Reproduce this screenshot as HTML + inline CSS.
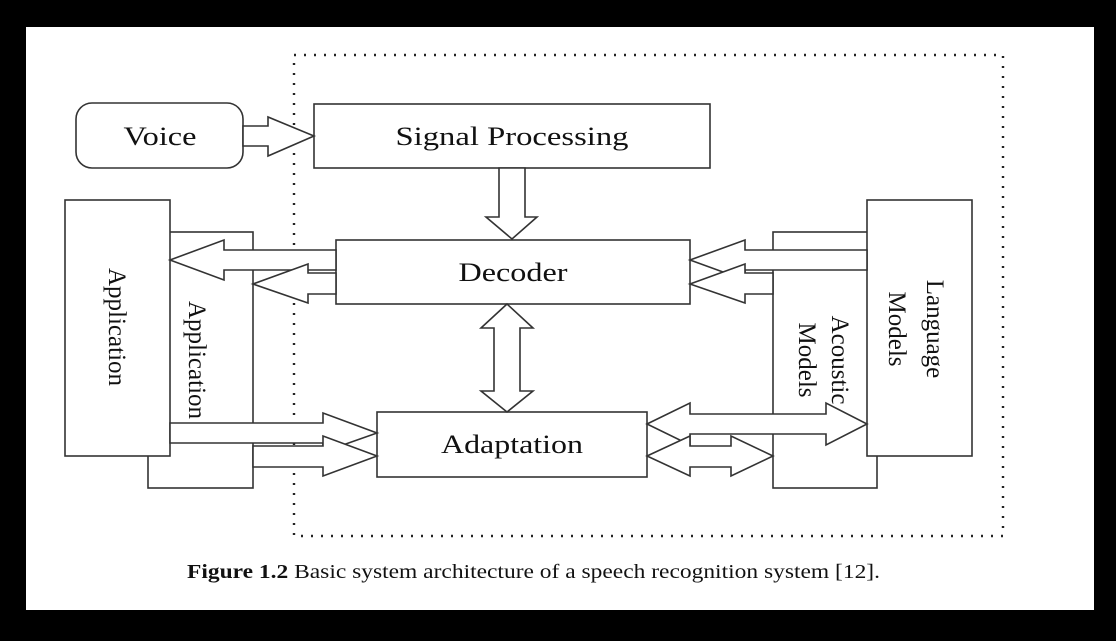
<!DOCTYPE html>
<html><head><meta charset="utf-8"><style>
html,body{margin:0;padding:0;background:#000;}
svg{display:block;}
text{font-family:"Liberation Serif",serif;fill:#111;}
</style></head><body>
<svg width="1116" height="641" viewBox="0 0 1116 641" xmlns="http://www.w3.org/2000/svg">
<rect x="0" y="0" width="1116" height="641" fill="#000"/>
<rect x="26" y="27" width="1068" height="583" fill="#fff"/>
<g fill="#fff" stroke="#333" stroke-width="1.6">
<rect x="294" y="55" width="709" height="481" fill="none" stroke="#222" stroke-width="2.4" stroke-dasharray="2 8"/>
<rect x="148" y="232" width="105" height="256"/>
<rect x="65" y="200" width="105" height="256"/>
<rect x="773" y="232" width="104" height="256"/>
<rect x="867" y="200" width="105" height="256"/>
<rect x="76" y="103" width="167" height="65" rx="16"/>
<rect x="314" y="104" width="396" height="64"/>
<rect x="336" y="240" width="354" height="64"/>
<rect x="377" y="412" width="270" height="65"/>
<polygon points="243,126 268,126 268,117 314,136 268,156 268,146 243,146"/>
<polygon points="499,168 525,168 525,217 537,217 512,239 486,217 499,217"/>
<polygon points="336,250 224,250 224,240 170,260 224,280 224,270 336,270"/>
<polygon points="336,273 308,273 308,264 253,284 308,303 308,294 336,294"/>
<polygon points="507,304 533,328 520,328 520,391 533,391 507,412 481,391 494,391 494,328 481,328"/>
<polygon points="170,423 323,423 323,413 377,433 323,452 323,443 170,443"/>
<polygon points="253,446 323,446 323,436 377,456 323,476 323,467 253,467"/>
<polygon points="867,250 745,250 745,240 690,260 745,280 745,270 867,270"/>
<polygon points="773,273 745,273 745,264 690,284 745,303 745,294 773,294"/>
<polygon points="647,424 690,403 690,414 826,414 826,403 867,424 826,445 826,434 690,434 690,445"/>
<polygon points="647,456 690,436 690,446 731,446 731,436 773,456 731,476 731,467 690,467 690,476"/>
</g>
<g font-size="26" text-anchor="middle">
<text x="160" y="145" textLength="73" lengthAdjust="spacingAndGlyphs">Voice</text>
<text x="512" y="145" textLength="233" lengthAdjust="spacingAndGlyphs">Signal Processing</text>
<text x="513" y="281" textLength="109" lengthAdjust="spacingAndGlyphs">Decoder</text>
<text x="512" y="453" textLength="142" lengthAdjust="spacingAndGlyphs">Adaptation</text>
</g>
<g font-size="25" text-anchor="middle">
<text transform="translate(117,327) rotate(90)" y="8">Application</text>
<text transform="translate(197,360) rotate(90)" y="8">Application</text>
<text transform="translate(823,360) rotate(90)"><tspan x="0" y="-9">Acoustic</tspan><tspan x="0" y="24">Models</tspan></text>
<text transform="translate(915,329) rotate(90)"><tspan x="0" y="-12">Language</tspan><tspan x="0" y="26">Models</tspan></text>
</g>
<text x="187" y="578" font-size="20" textLength="693" lengthAdjust="spacingAndGlyphs"><tspan font-weight="bold">Figure 1.2</tspan> Basic system architecture of a speech recognition system [12].</text>
</svg>
</body></html>
